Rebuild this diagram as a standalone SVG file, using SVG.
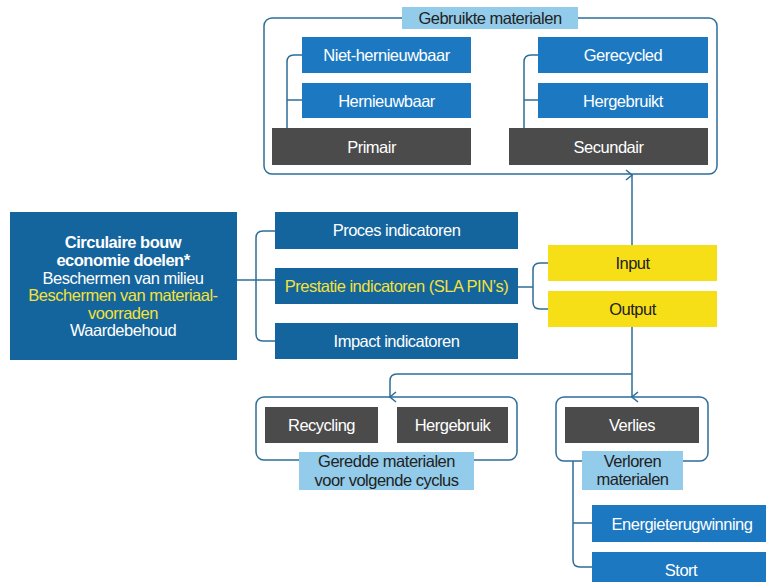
<svg xmlns="http://www.w3.org/2000/svg" width="766" height="582" viewBox="0 0 766 582">
<defs>
<marker id="chev" viewBox="0 0 12 12" refX="6" refY="11" markerWidth="12" markerHeight="12" markerUnits="userSpaceOnUse" orient="auto-start-reverse">
<path d="M1,5 L6,11 L11,5" fill="none" stroke="#2e6e98" stroke-width="1.5"/>
</marker>
<style>
text{font-family:"Liberation Sans",Arial,sans-serif;font-size:16.5px;text-anchor:middle;letter-spacing:-0.5px}
.w{fill:#ffffff}
.k{fill:#222222}
.y{fill:#f2e23a}
.b{font-weight:bold}
.mb{fill:#1b78c1}
.db{fill:#14649d}
.gr{fill:#4b4b4b}
.lb{fill:#93cbea}
.ye{fill:#f6df17}
.cont{fill:#ffffff;stroke:#2e6e98;stroke-width:1.5}
.ln{fill:none;stroke:#2e6e98;stroke-width:1.5}
</style>
</defs>
<rect width="766" height="582" fill="#ffffff"/>

<g id="gebruikte-materialen">
<rect class="cont" x="264" y="18" width="453" height="156" rx="8"/>
<rect class="lb" x="402" y="7" width="176" height="22"/>
<text class="k" x="490" y="24">Gebruikte materialen</text>
</g>
<g id="geredde-materialen">
<rect class="cont" x="256" y="397" width="261" height="63" rx="8"/>
<rect class="lb" x="299" y="452" width="175" height="38"/>
<text class="k" x="386.5" y="467">Geredde materialen</text>
<text class="k" x="386.5" y="485.5">voor volgende cyclus</text>
</g>
<g id="verloren-materialen">
<rect class="cont" x="556" y="397" width="152" height="64" rx="8"/>
<rect class="lb" x="582" y="451" width="101" height="39"/>
<text class="k" x="632.5" y="466.5">Verloren</text>
<text class="k" x="632.5" y="485">materialen</text>
</g>

<g id="connectors">
<path class="ln" d="M302,55 H294 Q287,55 287,62 V128"/>
<path class="ln" d="M287,100 H302"/>
<path class="ln" d="M538,55 H531 Q524,55 524,62 V128"/>
<path class="ln" d="M524,100 H538"/>
<path class="ln" d="M237,280 H275"/>
<path class="ln" d="M275,231 H263 Q256,231 256,238 V334 Q256,341 263,341 H275"/>
<path class="ln" d="M518,287 H533"/>
<path class="ln" d="M548,263 H540 Q533,263 533,270 V302 Q533,309 540,309 H548"/>
<path class="ln" d="M632,245 V175" marker-end="url(#chev)"/>
<path class="ln" d="M632,327 V397" marker-end="url(#chev)"/>
<path class="ln" d="M632,374 H397 Q390,374 390,381 V397" marker-end="url(#chev)"/>
<path class="ln" d="M573,461 V560 Q573,567 580,567 H592"/>
<path class="ln" d="M573,523 H592"/>
</g>

<g id="niet-hernieuwbaar"><rect class="mb" x="302" y="37" width="169" height="36"/><text class="w" x="386.5" y="61">Niet-hernieuwbaar</text></g>
<g id="hernieuwbaar"><rect class="mb" x="302" y="83" width="169" height="35"/><text class="w" x="386.5" y="106.5">Hernieuwbaar</text></g>
<g id="primair"><rect class="gr" x="272" y="128" width="199" height="37"/><text class="w" x="371.5" y="152.5">Primair</text></g>
<g id="gerecycled"><rect class="mb" x="538" y="37" width="170" height="36"/><text class="w" x="623" y="61">Gerecycled</text></g>
<g id="hergebruikt"><rect class="mb" x="538" y="83" width="170" height="35"/><text class="w" x="623" y="106.5">Hergebruikt</text></g>
<g id="secundair"><rect class="gr" x="509" y="128" width="199" height="37"/><text class="w" x="608.5" y="152.5">Secundair</text></g>

<g id="doelen">
<rect class="db" x="10" y="212" width="227" height="148"/>
<text class="w b" x="123" y="248">Circulaire bouw</text>
<text class="w b" x="123" y="266">economie doelen*</text>
<text class="w" x="123" y="283.5">Beschermen van milieu</text>
<text class="y" x="123" y="301">Beschermen van materiaal-</text>
<text class="y" x="123" y="318.5">voorraden</text>
<text class="w" x="123" y="336">Waardebehoud</text>
</g>

<g id="proces"><rect class="db" x="275" y="212" width="243" height="37"/><text class="w" x="396.5" y="236">Proces indicatoren</text></g>
<g id="prestatie"><rect class="db" x="275" y="268" width="243" height="36"/><text class="y" x="396.5" y="291.5">Prestatie indicatoren (SLA PIN’s)</text></g>
<g id="impact"><rect class="db" x="275" y="323" width="243" height="36"/><text class="w" x="396.5" y="346.5">Impact indicatoren</text></g>

<g id="input"><rect class="ye" x="548" y="245" width="169" height="36"/><text class="k" x="632.5" y="268.5">Input</text></g>
<g id="output"><rect class="ye" x="548" y="291" width="169" height="36"/><text class="k" x="632.5" y="314.5">Output</text></g>

<g id="recycling"><rect class="gr" x="265" y="407" width="113" height="36"/><text class="w" x="321.5" y="430.5">Recycling</text></g>
<g id="hergebruik"><rect class="gr" x="397" y="407" width="111" height="36"/><text class="w" x="452.5" y="430.5">Hergebruik</text></g>
<g id="verlies"><rect class="gr" x="565" y="407" width="134" height="36"/><text class="w" x="632" y="430.5">Verlies</text></g>
<g id="energieterugwinning"><rect class="mb" x="592" y="505" width="180" height="37"/><text class="w" x="682" y="529.5">Energieterugwinning</text></g>
<g id="stort"><rect class="mb" x="592" y="552" width="180" height="36"/><text class="w" x="681" y="575.5">Stort</text></g>
</svg>
